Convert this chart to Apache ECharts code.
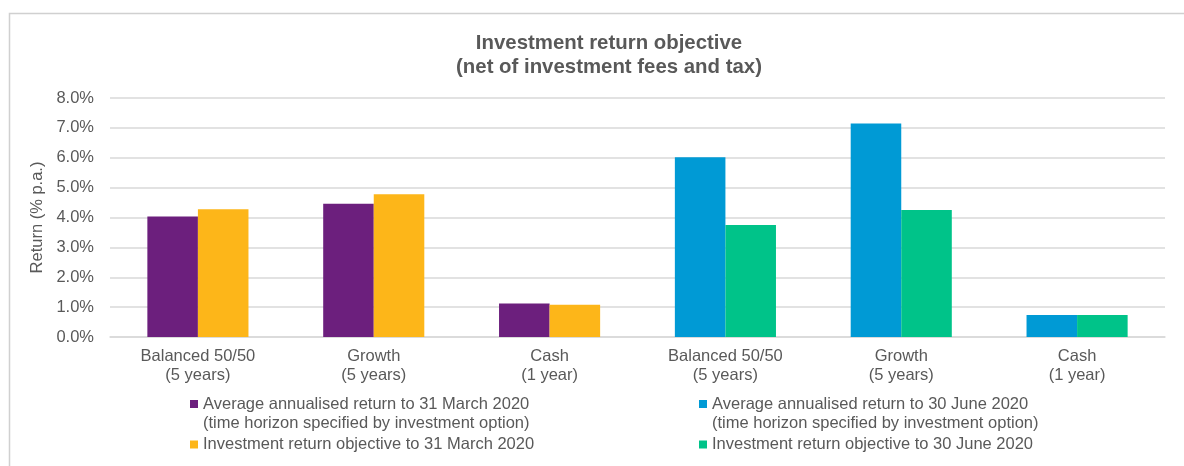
<!DOCTYPE html>
<html>
<head>
<meta charset="utf-8">
<script src="https://cdn.jsdelivr.net/npm/echarts@6/dist/echarts.min.js"></script>
<style>
html,body{margin:0;padding:0;background:#fff;}
#chart{width:1184px;height:466px;}
</style>
</head>
<body>
<div id="chart"></div>
<script>
const categories = ['Balanced 50/50\n(5 years)', 'Growth\n(5 years)', 'Cash\n(1 year)', 'Balanced 50/50\n(5 years)', 'Growth\n(5 years)', 'Cash\n(1 year)'];
const seriesNames = [
  'Average annualised return to 31 March 2020\n(time horizon specified by investment option)',
  'Investment return objective to 31 March 2020',
  'Average annualised return to 30 June 2020\n(time horizon specified by investment option)',
  'Investment return objective to 30 June 2020'
];
const avgMarch = [4.03, 4.46, 1.12, null, null, null];
const objMarch = [4.28, 4.78, 1.08, null, null, null];
const avgJune = [null, null, null, 6.02, 7.15, 0.74];
const objJune = [null, null, null, 3.75, 4.25, 0.74];
const yTicks = [0, 1, 2, 3, 4, 5, 6, 7, 8];
const colors = ['#6C1F7D', '#FDB619', '#009AD5', '#00C389'];

const FONT = 'Liberation Sans, Arial, sans-serif';
const TXT = '#595959';
const chart = echarts.init(document.getElementById('chart'), null, {renderer: 'canvas'});

// two-line legend entries: marker aligned with the first text line
const TWO_LINE_ICON = 'path://M0,0L8,0M0,5H8V13H0ZM0,38L8,38';

function legendBox(name, left, top, twoLine) {
  return {
    data: [{name: name, icon: twoLine ? TWO_LINE_ICON : 'rect'}],
    left: left, top: top,
    orient: 'vertical',
    itemWidth: 8, itemHeight: twoLine ? 38 : 8,
    padding: 0,
    selectedMode: false,
    textStyle: {fontFamily: FONT, fontSize: 16.5, color: TXT, lineHeight: 19}
  };
}

chart.setOption({
  animation: false,
  textStyle: {fontFamily: FONT},
  graphic: [{
    type: 'rect', silent: true,
    shape: {x: 9.5, y: 13.5, width: 1200, height: 500},
    style: {fill: 'none', stroke: '#d0d0d0', lineWidth: 1.5}
  }],
  title: {
    text: 'Investment return objective\n(net of investment fees and tax)',
    left: 604, top: 26, textAlign: 'center',
    textStyle: {fontFamily: FONT, fontSize: 20.4, fontWeight: 'bold', color: TXT, lineHeight: 24}
  },
  legend: [
    legendBox(seriesNames[0], 190, 395, true),
    legendBox(seriesNames[1], 190, 435, false),
    legendBox(seriesNames[2], 699, 395, true),
    legendBox(seriesNames[3], 699, 435, false)
  ],
  grid: {left: 110, right: 19, top: 98, bottom: 129, containLabel: false},
  xAxis: {
    type: 'category',
    data: categories,
    axisTick: {show: false},
    axisLine: {lineStyle: {color: '#d9d9d9', width: 1.5}},
    axisLabel: {color: TXT, fontFamily: FONT, fontSize: 16.5, lineHeight: 19, margin: 10, interval: 0}
  },
  yAxis: {
    type: 'value',
    min: yTicks[0], max: yTicks[yTicks.length - 1], interval: 1,
    name: 'Return (% p.a.)',
    nameLocation: 'middle',
    nameGap: 64,
    nameTextStyle: {color: TXT, fontFamily: FONT, fontSize: 16.5},
    axisLine: {show: false},
    axisTick: {show: false},
    axisLabel: {color: TXT, fontFamily: FONT, fontSize: 16.5, margin: 16, formatter: v => v.toFixed(1) + '%'},
    splitLine: {lineStyle: {color: '#d9d9d9', width: 1.5}}
  },
  series: [
    {name: seriesNames[0], type: 'bar', stack: 'a', data: avgMarch, itemStyle: {color: colors[0]}, barGap: '0%', barCategoryGap: '42.5%'},
    {name: seriesNames[2], type: 'bar', stack: 'a', data: avgJune, itemStyle: {color: colors[2]}},
    {name: seriesNames[1], type: 'bar', stack: 'b', data: objMarch, itemStyle: {color: colors[1]}},
    {name: seriesNames[3], type: 'bar', stack: 'b', data: objJune, itemStyle: {color: colors[3]}}
  ]
});
</script>
</body>
</html>
